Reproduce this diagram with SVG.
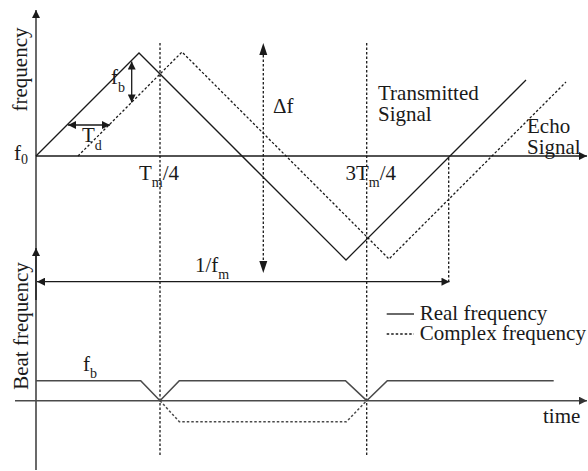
<svg xmlns="http://www.w3.org/2000/svg" width="588" height="471" viewBox="0 0 588 471">
<style>
text{font-family:"Liberation Serif","Times New Roman",serif;fill:#1a1a1a;font-size:21px}
.sub{font-size:14px}
.s{fill:none;stroke:#1a1a1a;stroke-width:1.3}
.g{fill:none;stroke:#4a4a4a;stroke-width:1.6}
.d{fill:none;stroke:#1a1a1a;stroke-width:1.3;stroke-dasharray:2.5,2}
.dg{fill:none;stroke:#4a4a4a;stroke-width:1.5;stroke-dasharray:2.5,2}
</style>
<defs>
<marker id="ah" viewBox="0 0 10 10" refX="10" refY="5" markerWidth="9" markerHeight="8" markerUnits="userSpaceOnUse" orient="auto-start-reverse">
<path d="M0,0L10,5L0,10z" fill="#1a1a1a"/>
</marker>
<marker id="ahg" viewBox="0 0 10 10" refX="10" refY="5" markerWidth="10" markerHeight="8" markerUnits="userSpaceOnUse" orient="auto-start-reverse">
<path d="M0,0L10,5L0,10z" fill="#333"/>
</marker>
</defs>
<g id="axes">
<line class="s" x1="36" y1="470" x2="36" y2="10" marker-end="url(#ah)"/>
<line class="s" x1="36" y1="300" x2="36" y2="248" marker-end="url(#ah)"/>
<line class="s" x1="36" y1="156" x2="587" y2="156" marker-end="url(#ah)"/>
<line class="g" x1="15" y1="400.7" x2="587" y2="400.7" marker-end="url(#ahg)"/>
</g>
<g id="connectors">
<line class="d" x1="160" y1="43" x2="160" y2="456"/>
<line class="d" x1="366.7" y1="43" x2="366.7" y2="457"/>
<line class="d" x1="448.7" y1="158" x2="448.7" y2="281.7"/>
<line class="d" x1="263.3" y1="55" x2="263.3" y2="262" />
<path d="M263.3,43L259.3,55L267.3,55z M263.3,273L259.3,261L267.3,261z" fill="#1a1a1a"/>
<line class="s" x1="37" y1="281.7" x2="449.5" y2="281.7" marker-start="url(#ah)" marker-end="url(#ah)"/>
<line class="s" x1="131.7" y1="61.5" x2="131.7" y2="102.5" marker-start="url(#ah)" marker-end="url(#ah)"/>
<line class="s" x1="68" y1="125" x2="110" y2="125" marker-start="url(#ah)" marker-end="url(#ah)"/>
</g>
<g id="transmitted">
<polyline class="s" points="36,156 139,53 346,260 526,80"/>
</g>
<g id="echo">
<polyline class="d" points="78,156 182,52 389,259 566,82"/>
</g>
<g id="beat">
<polyline class="g" points="36,380.7 140.7,380.7 160,400.7 179.3,380.7 345.5,380.7 366.7,400.7 387.3,380.7 553.7,380.7"/>
<polyline class="dg" points="160,400.7 179.3,421.7 346.5,421.7 366.7,400.7"/>
</g>
<g id="legend">
<line class="s" x1="386.7" y1="314" x2="414" y2="314"/>
<line class="d" x1="386.7" y1="334" x2="414" y2="334"/>
<text x="419.7" y="319.5">Real frequency</text>
<text x="419.7" y="339.5">Complex frequency</text>
</g>
<g id="labels">
<text transform="translate(26.7,69.5) rotate(-90)" text-anchor="middle">frequency</text>
<text transform="translate(27.5,326) rotate(-90)" text-anchor="middle">Beat frequency</text>
<text x="14" y="159.5">f<tspan class="sub" dy="4">0</tspan></text>
<text x="111" y="83.5">f<tspan class="sub" dy="8">b</tspan></text>
<text x="82" y="141.5">T<tspan class="sub" dy="8">d</tspan></text>
<text x="139" y="180">T<tspan class="sub" dy="7">m</tspan><tspan dy="-7">/4</tspan></text>
<text x="345.5" y="180">3T<tspan class="sub" dy="7">m</tspan><tspan dy="-7">/4</tspan></text>
<text x="273" y="113">Δf</text>
<text x="378" y="99.5">Transmitted</text>
<text x="378" y="120.5">Signal</text>
<text x="527" y="132.5">Echo</text>
<text x="527" y="154">Signal</text>
<text x="195" y="271.7">1/f<tspan class="sub" dy="7.5">m</tspan></text>
<text x="83" y="370.7">f<tspan class="sub" dy="7.5">b</tspan></text>
<text x="543" y="422.7">time</text>
</g>
</svg>
